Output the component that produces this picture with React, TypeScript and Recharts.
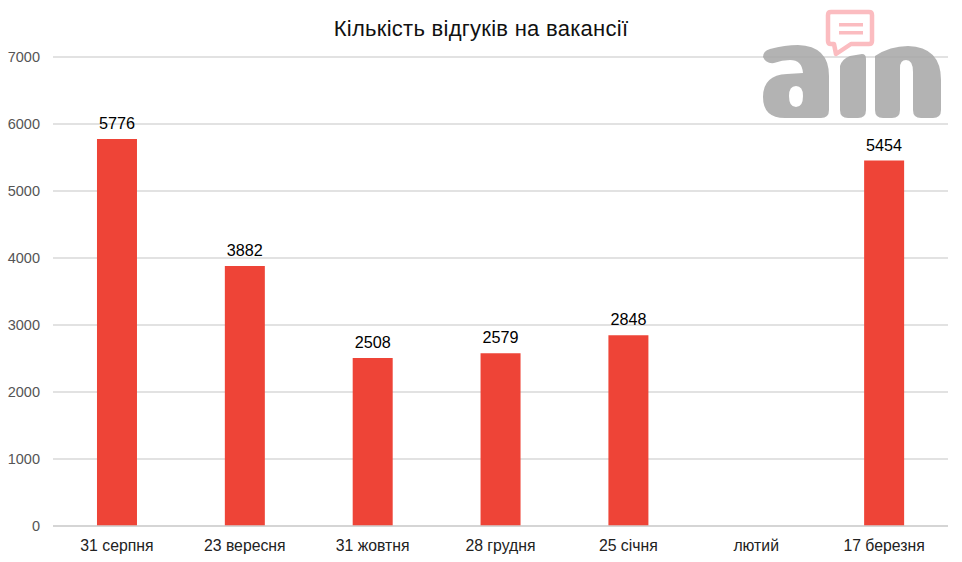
import React from "react";
import { BarChart, Bar, XAxis, YAxis, CartesianGrid, LabelList } from "recharts";

const categories = ["31 серпня", "23 вересня", "31 жовтня", "28 грудня", "25 січня", "лютий", "17 березня"];
const responses: (number | null)[] = [5776, 3882, 2508, 2579, 2848, null, 5454];
const yTicks = [0, 1000, 2000, 3000, 4000, 5000, 6000, 7000];
const titleText = "Кількість відгуків на вакансії";
const fontStack = "'Liberation Sans', Arial, sans-serif";

const rows = categories.map((name, i) => ({ name, value: responses[i] }));

function Logo() {
  return (
    <svg width={962} height={562} style={{ position: "absolute", left: 0, top: 0, pointerEvents: "none" }}>
      <g fill="#a6a6a6" fillOpacity={0.85}>
        <path fillRule="evenodd" d="M770 49 Q785 45 798 45 Q829 46 829 76 L829 110 Q829 118 821 118 L785 118 Q763 118 763 97 Q763 75 787 74 L803 73 Q802 60 790 60 Q782 60 774 63 Q766 64 763 57 Q763 51 770 49 Z M796 86 Q789 86 789 96 Q789 107 796 107 Q803 107 803 96 Q803 86 796 86 Z" />
        <path d="M840 66 Q842 59 850 56 L862 54 Q866 54 866 59 L866 110 Q866 118 858 118 L848 118 Q840 118 840 110 Z" />
        <path d="M875 56 Q890 46 908 46 Q941 47 941 80 L941 110 Q941 118 933 118 L921 118 Q913 118 913 110 L913 72 Q913 60 906 60 Q900 60 900 68 L900 110 Q900 118 892 118 L883 118 Q875 118 875 110 Z" />
      </g>
      <path d="M831 12 L869 12 Q872 12 872 15 L872 41 Q872 44 869 44 L851 44 L836 54 L834 44 L831 44 Q828 44 828 41 L828 15 Q828 12 831 12 Z" fill="#ffffff" stroke="#fbbcc0" strokeWidth={4.5} strokeLinejoin="round" />
      <rect x={839} y={23} width={24} height={3.5} fill="#fbbcc0" />
      <rect x={839} y={31} width={24} height={3.5} fill="#fbbcc0" />
    </svg>
  );
}

export default function App() {
  return (
    <div style={{ position: "absolute", left: 0, top: 0, width: 962, height: 562, background: "#fff", overflow: "hidden" }}>
      <BarChart
        width={962}
        height={562}
        data={rows}
        margin={{ top: 57, right: 14, bottom: 0, left: 0 }}
        barCategoryGap="34.4%"
      >
        <CartesianGrid vertical={false} stroke="#d9d9d9" strokeWidth={1.3} />
        <XAxis
          dataKey="name"
          axisLine={{ stroke: "#d0d0d0", strokeWidth: 1.3 }}
          tickLine={false}
          interval={0}
          height={36}
          tickMargin={8}
          tick={{ fontFamily: fontStack, fontSize: 15.8, fill: "#222222" }}
        />
        <YAxis
          domain={[0, 7000]}
          ticks={yTicks}
          width={53}
          axisLine={false}
          tickLine={false}
          tickMargin={7}
          tick={{ fontFamily: fontStack, fontSize: 14.5, fill: "#555555" }}
        />
        <Bar dataKey="value" fill="#ee4437" isAnimationActive={false}>
          <LabelList
            dataKey="value"
            position="top"
            offset={10}
            style={{ fontFamily: fontStack, fontSize: 16.2, fill: "#000000" }}
          />
        </Bar>
      </BarChart>
      <div
        style={{
          position: "absolute",
          left: 0,
          top: 17,
          width: 962,
          textAlign: "center",
          fontFamily: fontStack,
          fontSize: 22,
          lineHeight: "24px",
          letterSpacing: 0.27,
          color: "#111111",
        }}
      >
        {titleText}
      </div>
      <Logo />
    </div>
  );
}
